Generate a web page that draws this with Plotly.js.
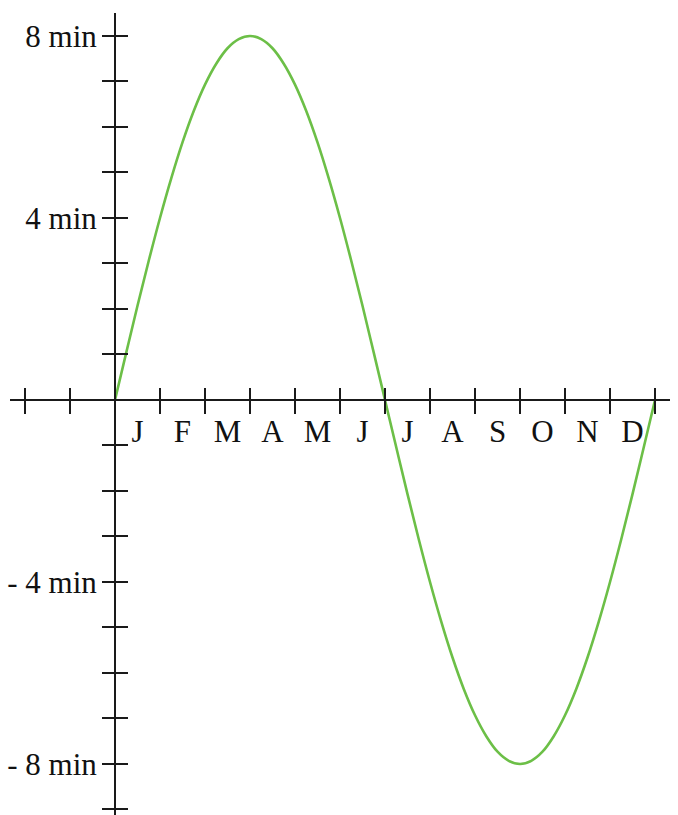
<!DOCTYPE html>
<html>
<head>
<meta charset="utf-8">
<script src="https://cdn.plot.ly/plotly-3.0.1.min.js"></script>
<style>html,body{margin:0;padding:0;background:#fff;}#chart{width:678px;height:815px;}</style>
</head>
<body>
<div id="chart"></div>
<script>
// Time in months from the start of January, offset in minutes
const months = [0,0.25,0.5,0.75,1,1.25,1.5,1.75,2,2.25,2.5,2.75,3,3.25,3.5,3.75,4,4.25,4.5,4.75,5,5.25,5.5,5.75,6,
                6.25,6.5,6.75,7,7.25,7.5,7.75,8,8.25,8.5,8.75,9,9.25,9.5,9.75,10,10.25,10.5,10.75,11,11.25,11.5,11.75,12];
const minutes = [0,1.04,2.07,3.06,4.0,4.87,5.66,6.35,6.93,7.39,7.73,7.93,8.0,7.93,7.73,7.39,6.93,6.35,5.66,4.87,4.0,3.06,2.07,1.04,0,
                 -1.04,-2.07,-3.06,-4.0,-4.87,-5.66,-6.35,-6.93,-7.39,-7.73,-7.93,-8.0,-7.93,-7.73,-7.39,-6.93,-6.35,-5.66,-4.87,-4.0,-3.06,-2.07,-1.04,0];
const monthLabels = ['J','F','M','A','M','J','J','A','S','O','N','D'];
const monthCenters = [0.5,1.5,2.5,3.5,4.5,5.5,6.5,7.5,8.5,9.5,10.5,11.5];
const xTickVals = [-2,-1,0,1,2,3,4,5,6,7,8,9,10,11,12];
const yTickVals = [-9,-8,-7,-6,-5,-4,-3,-2,-1,0,1,2,3,4,5,6,7,8];
const yTickText = ['','- 8 min','','','','- 4 min','','','','','','','','4 min','','','','8 min'];

const W = 678, H = 815;
const xDom = [10/W, 670/W];
const xRange = [-2.333, 12.333];
const yDom = [0, (H-13)/H];
const yRange = [-9.121, 8.505];
const xPos = 115/W;
const yPos = 415/H;

const serif = {family:'Liberation Serif', size:31, color:'#111'};
const axCol = '#1a1a1a';

const trace = {
  x: months, y: minutes, type:'scatter', mode:'lines',
  line:{color:'#6cbf47', width:2.6, shape:'spline', smoothing:1},
  hoverinfo:'skip', showlegend:false
};

const baseX = {range:xRange, showgrid:false, zeroline:false, fixedrange:true};
const baseY = {range:yRange, showgrid:false, zeroline:false, fixedrange:true};

const layout = {
  width:W, height:H,
  margin:{l:0,r:0,t:0,b:0},
  paper_bgcolor:'#fff', plot_bgcolor:'rgba(0,0,0,0)',
  showlegend:false,
  xaxis: Object.assign({}, baseX, {domain:xDom, anchor:'free', position:yPos,
    showline:true, linecolor:axCol, linewidth:2,
    tickmode:'array', tickvals:xTickVals, ticks:'outside', ticklen:13, tickwidth:2, tickcolor:axCol,
    showticklabels:false}),
  xaxis2: Object.assign({}, baseX, {overlaying:'x', anchor:'free', position:yPos,
    showline:false, tickmode:'array', tickvals:xTickVals, ticks:'inside', ticklen:12, tickwidth:2, tickcolor:axCol,
    showticklabels:false}),
  xaxis3: Object.assign({}, baseX, {overlaying:'x', anchor:'free', position:yPos,
    showline:false, tickmode:'array', tickvals:monthCenters, ticktext:monthLabels,
    ticks:'', ticklabelstandoff:10, tickfont:serif}),
  yaxis: Object.assign({}, baseY, {domain:yDom, anchor:'free', position:xPos,
    showline:true, linecolor:axCol, linewidth:2,
    tickmode:'array', tickvals:yTickVals, ticktext:yTickText, ticks:'outside', ticklen:12, tickwidth:2, tickcolor:axCol,
    ticklabelstandoff:-1, tickfont:serif}),
  yaxis2: Object.assign({}, baseY, {overlaying:'y', anchor:'free', position:xPos,
    showline:false, tickmode:'array', tickvals:yTickVals, ticks:'inside', ticklen:12, tickwidth:2, tickcolor:axCol,
    showticklabels:false})
};

const dummyX2 = {x:[0], y:[0], xaxis:'x2', yaxis:'y2', mode:'markers', marker:{opacity:0}, hoverinfo:'skip', showlegend:false};
const dummyX3 = {x:[0], y:[0], xaxis:'x3', yaxis:'y', mode:'markers', marker:{opacity:0}, hoverinfo:'skip', showlegend:false};

Plotly.newPlot('chart', [trace, dummyX2, dummyX3], layout, {staticPlot:true, displayModeBar:false});
</script>
</body>
</html>
